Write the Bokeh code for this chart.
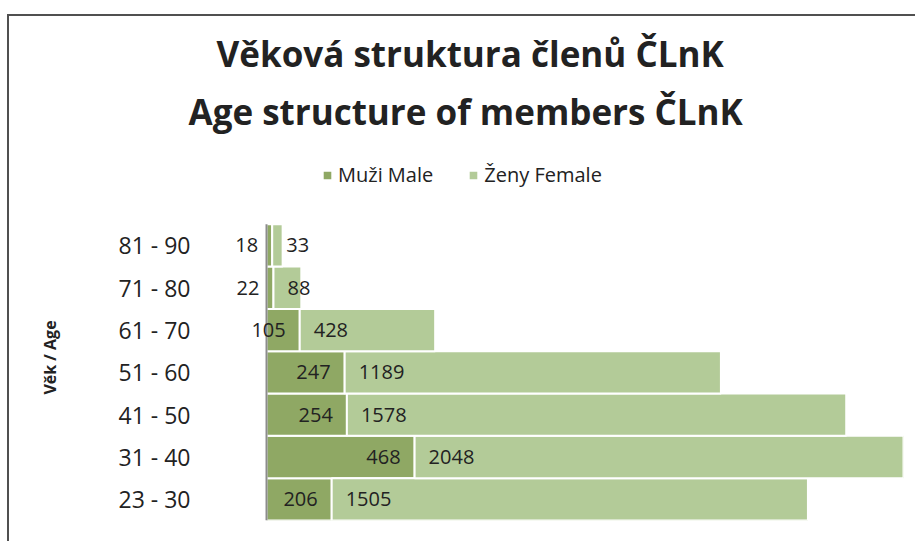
from bokeh.plotting import figure
from bokeh.models import (ColumnDataSource, LabelSet, Legend, LegendItem, Title, Range1d,
                          FixedTicker)
from bokeh.core.properties import value
from bokeh.embed import file_html
from bokeh.resources import INLINE

# Data (bottom to top)
age_groups = ["23 - 30", "31 - 40", "41 - 50", "51 - 60", "61 - 70", "71 - 80", "81 - 90"]
male = [206, 468, 254, 247, 105, 22, 18]
female = [1505, 2048, 1578, 1189, 428, 88, 33]

title_line1 = "Věková struktura členů ČLnK"
title_line2 = "Age structure of members ČLnK"
male_label = "Muži Male"
female_label = "Ženy Female"
axis_label = "Věk / Age"

MALE_COLOR = "#8fa864"
FEMALE_COLOR = "#b3cb98"
TEXT_COLOR = "#222222"
FONT = "Open Sans"

pos = list(range(len(age_groups)))
total = [m + f for m, f in zip(male, female)]
source = ColumnDataSource(dict(
    pos=pos, male=male, female=female, total=total,
    zero=[0] * len(male),
    male_txt=[str(v) for v in male], female_txt=[str(v) for v in female],
))

p = figure(
    x_range=Range1d(-208.6, 2013),
    y_range=Range1d(-0.5, 8.48),
    width=908, height=527,
    min_border_left=191, min_border_right=14, min_border_top=124, min_border_bottom=23,
    output_backend="svg", toolbar_location=None,
    styles={"margin-top": "14px", "margin-left": "7px",
            "border-top": "2px solid #505050", "border-left": "2px solid #505050"},
)
p.outline_line_color = None

r_m = p.hbar(y="pos", left="zero", right="male", height=1.0, source=source,
             fill_color=MALE_COLOR, line_color="white", line_width=2)
r_f = p.hbar(y="pos", left="male", right="total", height=1.0, source=source,
             fill_color=FEMALE_COLOR, line_color="white", line_width=2)

# category axis base line (spans the category bands only)
p.segment(x0=[0], y0=[pos[0] - 0.5], x1=[0], y1=[pos[-1] + 0.5],
          line_color="#8c8c8c", line_width=2)

lab_m = LabelSet(x="male", y="pos", text="male_txt", source=source, text_align="right",
                 text_baseline="middle", x_offset=-14, text_font=value(FONT),
                 text_font_size="20px", text_color=TEXT_COLOR)
lab_f = LabelSet(x="male", y="pos", text="female_txt", source=source, text_align="left",
                 text_baseline="middle", x_offset=14, text_font=value(FONT),
                 text_font_size="20px", text_color=TEXT_COLOR)
p.add_layout(lab_m)
p.add_layout(lab_f)

p.xaxis.visible = False
p.xgrid.visible = False
p.ygrid.visible = False

ax = p.yaxis[0]
ax.ticker = FixedTicker(ticks=pos)
ax.major_label_overrides = {i: g for i, g in zip(pos, age_groups)}
ax.axis_line_color = None
ax.major_tick_line_color = None
ax.minor_tick_line_color = None
ax.major_label_text_font = FONT
ax.major_label_text_font_size = "23px"
ax.major_label_text_color = TEXT_COLOR
ax.major_label_standoff = 4
ax.axis_label = axis_label + "\u00a0" * 13
ax.axis_label_text_font = FONT
ax.axis_label_text_font_style = "bold"
ax.axis_label_text_font_size = "16px"
ax.axis_label_text_color = TEXT_COLOR
ax.axis_label_standoff = 55

legend = Legend(items=[LegendItem(label=male_label, renderers=[r_m]),
                       LegendItem(label=female_label, renderers=[r_f])],
                orientation="horizontal", location=(121, 332),
                label_text_font=FONT, label_text_font_size="20px", label_text_color=TEXT_COLOR,
                glyph_width=12, glyph_height=12, spacing=34, border_line_color=None,
                background_fill_alpha=0)
p.add_layout(legend)

p.add_layout(Title(text=title_line2, align="left", offset=-12, standoff=12, text_font=FONT,
                   text_font_size="35px", text_font_style="bold", text_color=TEXT_COLOR), "above")
p.add_layout(Title(text=title_line1, align="left", offset=16, standoff=5, text_font=FONT,
                   text_font_size="35px", text_font_style="bold", text_color=TEXT_COLOR), "above")

open("out.html", "w").write(file_html(p, INLINE))
